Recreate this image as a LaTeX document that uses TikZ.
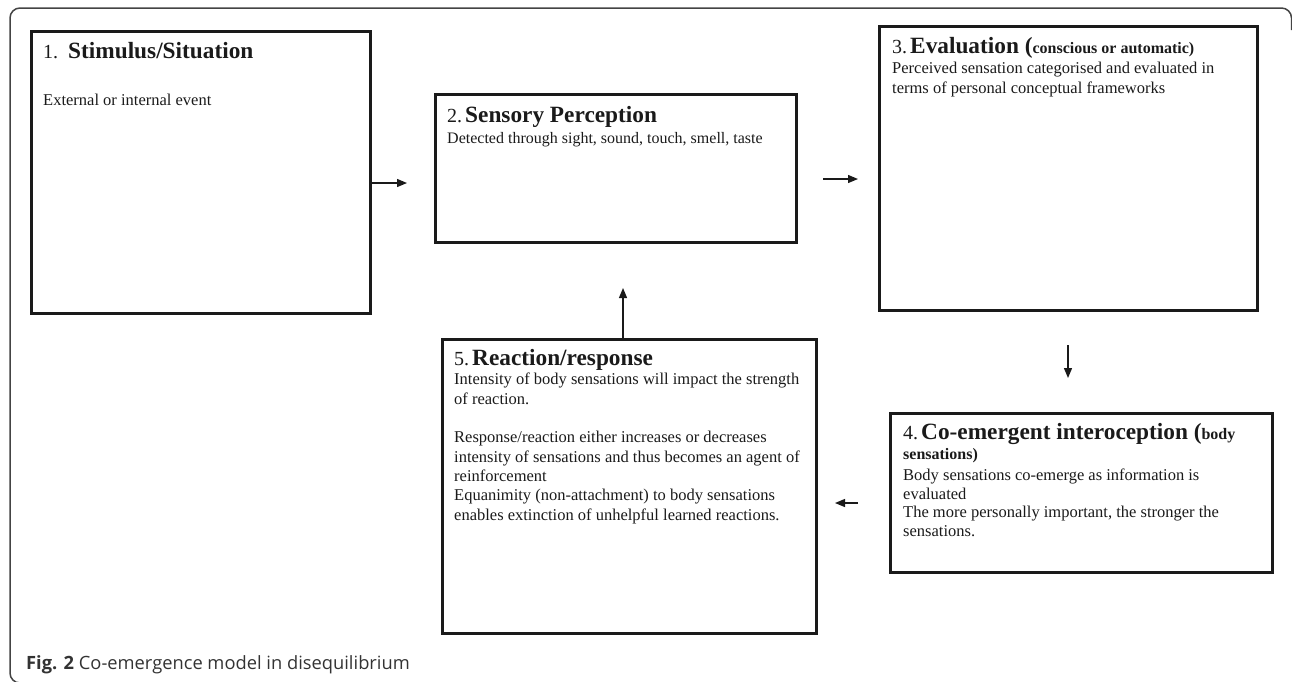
\documentclass[tikz,border=0pt]{standalone}
\usepackage{fontspec}
\setmainfont{Liberation Serif}
\newfontfamily\capfont{Open Sans}
\usetikzlibrary{arrows.meta}
\definecolor{ink}{HTML}{1A1A1A}
\definecolor{framec}{HTML}{444444}
\definecolor{capc}{HTML}{333333}
\newcommand{\numf}{\fontsize{20}{24}\selectfont\mdseries}
\newcommand{\titf}{\fontsize{23.3}{27}\selectfont\bfseries}
\newcommand{\subf}{\fontsize{16}{19}\selectfont\bfseries}
\newcommand{\bodyf}{\fontsize{16.5}{19.3}\selectfont}
\begin{document}
\begin{tikzpicture}[x=1pt,y=-1pt,
  stagebox/.style={draw=ink, line width=3pt, inner sep=0pt, outer sep=0pt, anchor=north west, rectangle},
  txt/.style={inner sep=0pt, anchor=base west, align=left, font=\bodyf, text=ink},
  arr/.style={draw=ink, line width=1.3pt, -{Triangle[length=10pt,width=8pt]}},
  frame/.style={draw=framec, line width=1.5pt, rounded corners=10pt}]
\useasboundingbox (0,0) rectangle (1292,681);
\draw[frame] (40,683) -| (10,8) -| (1291.5,30);

% boxes
\node[stagebox, minimum width=339pt, minimum height=282pt] (b1) at (31.5,31.5) {};
\node[stagebox, minimum width=361pt, minimum height=148pt] (b2) at (435.5,94.5) {};
\node[stagebox, minimum width=378pt, minimum height=284pt] (b3) at (879.5,26.5) {};
\node[stagebox, minimum width=382pt, minimum height=159pt] (b4) at (890.5,413.5) {};
\node[stagebox, minimum width=374pt, minimum height=294pt] (b5) at (442.5,339.5) {};

% texts (multi-line nodes: base = last line)
\node[txt] (t1) at (43,58) {{\numf 1.}\hspace{10pt}{\titf Stimulus/Situation}};
\node[txt] (d1) at (43,105) {External or internal event};

\node[txt] (t2) at (447,122) {{\numf 2.}\hspace{3pt}{\titf Sensory Perception}};
\node[txt, font=\fontsize{16}{19.3}\selectfont] (d2) at (447,143) {Detected through sight, sound, touch, smell, taste};

\node[txt] (t3) at (892,53) {{\numf 3.}\hspace{3pt}{\titf Evaluation (}{\subf conscious or automatic)}};
\node[txt] (d3) at (892,93) {Perceived sensation categorised and evaluated in\\terms of personal conceptual frameworks};

\node[txt] (t4) at (903,439) {{\numf 4.}\hspace{3pt}{\titf Co-emergent interoception (}{\subf body}};
\node[txt] (t4b) at (903,459) {{\subf sensations)}};
\node[txt, font=\fontsize{16.5}{18.5}\selectfont] (d4) at (903,536) {Body sensations co-emerge as information is\\evaluated\\The more personally important, the stronger the\\sensations.};

\node[txt] (t5) at (454,365) {{\numf 5.}\hspace{3pt}{\titf Reaction/response}};
\node[txt] (d5) at (454,520) {Intensity of body sensations will impact the strength\\of reaction.\\[19.3pt]Response/reaction either increases or decreases\\intensity of sensations and thus becomes an agent of\\reinforcement\\Equanimity (non-attachment) to body sensations\\enables extinction of unhelpful learned reactions.};

% arrows
\coordinate (e12) at (407,183);
\coordinate (s23) at (823,179);
\coordinate (e23) at (858,179);
\coordinate (s34) at (1068,345);
\coordinate (e34) at (1068,378);
\coordinate (s45) at (858,503);
\coordinate (e45) at (835,503);
\coordinate (e52) at (623,288);
\draw[arr] ([yshift=-10.5pt]b1.east) -- (e12);
\draw[arr] (s23) -- (e23);
\draw[arr] (s34) -- (e34);
\draw[arr] (s45) -- (e45);
\draw[arr] ([xshift=-6.5pt]b5.north) -- (e52);

% caption
\node[inner sep=0pt, anchor=base west, font=\capfont\fontsize{18.3}{21}\selectfont, text=capc] (cap) at (26,669) {\textbf{Fig. 2} Co-emergence model in disequilibrium};
\end{tikzpicture}
\end{document}
